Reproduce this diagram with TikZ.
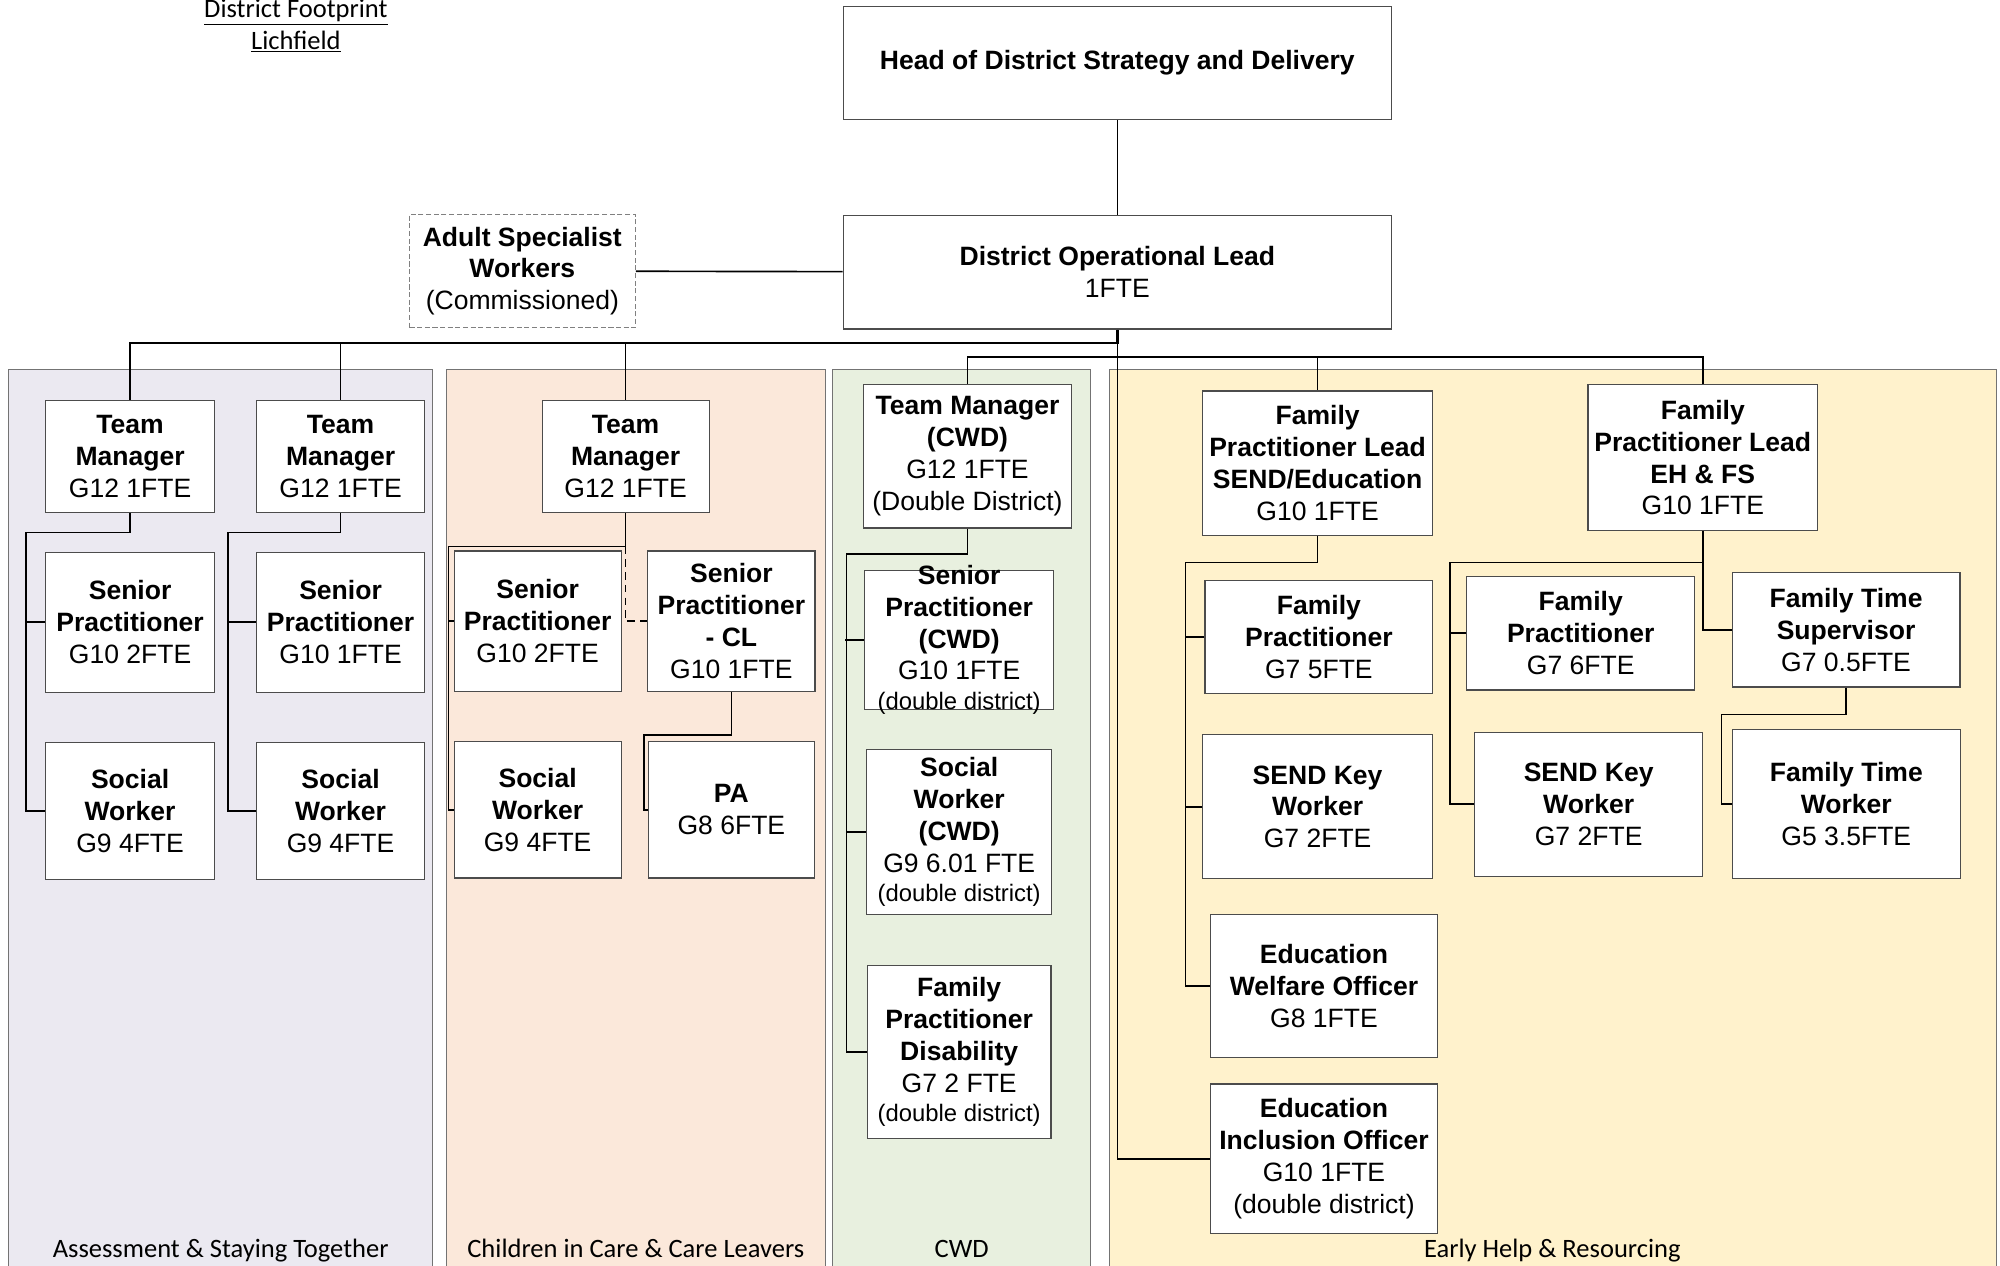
\documentclass[tikz,border=0pt]{standalone}
\usepackage{fontspec}
\setmainfont{Liberation Sans}
\newfontfamily\calibri{Carlito}
\usepackage{tikz}
\usetikzlibrary{positioning}

\definecolor{panelA}{HTML}{EBE9F1}
\definecolor{panelB}{HTML}{FBE8DA}
\definecolor{panelC}{HTML}{E8F0DF}
\definecolor{panelD}{HTML}{FFF2CC}

\begin{document}
\begin{tikzpicture}[x=1pt,y=-1pt,node distance=30pt,
  box/.style={draw=black!70,line width=0.9pt,fill=white,align=center,inner sep=1pt,font=\fontsize{20.8}{25}\selectfont},
  txt/.style={align=center,inner sep=0pt,font=\fontsize{20.8}{25}\selectfont},
  tmbox/.style={box,minimum width=132pt,minimum height=88pt},
  spbox/.style={box,minimum width=132pt,minimum height=110pt},
  swbox/.style={box,minimum width=132pt,minimum height=107pt},
  link/.style={draw,line width=1.3pt},
  bus/.style={draw,line width=1.8pt},
  panel/.style={draw=black!55,line width=0.8pt},
  lbl/.style={font=\calibri\fontsize{20.8}{25}\selectfont,inner sep=0pt,anchor=base}]
\useasboundingbox (0,0) rectangle (1568,992);

\path[panel,fill=panelA] (7,289.6) rectangle (339,1000);
\path[panel,fill=panelB] (350,289.6) rectangle (647,1000);
\path[panel,fill=panelC] (653,289.6) rectangle (855,1000);
\path[panel,fill=panelD] (869.7,289.6) rectangle (1565,1000);
\node[lbl] (labA) at (173,986) {Assessment \& Staying Together};
\node[lbl] (labB) at (498.5,986) {Children in Care \& Care Leavers};
\node[lbl] (labC) at (754,986) {CWD};
\node[lbl] (labD) at (1217,986) {Early Help \& Resourcing};

\node[lbl] (ttl1) at (232,14) {\underline{District Footprint}};
\node[lbl] (ttl2) at (232,39) {\underline{Lichfield}};

\node[box,minimum width=430pt,minimum height=89pt] (head) at (876,49.5) {\textbf{Head of District Strategy and Delivery}};
\node[box,minimum width=430pt,minimum height=89pt,below=74pt of head] (dol) {\textbf{District Operational Lead}\\1FTE};
\node[box,draw=black!50,dash pattern=on 4pt off 2pt,minimum width=177pt,minimum height=89pt] (adult) at (409.5,212.5) {\textbf{Adult Specialist}\\\textbf{Workers}\\(Commissioned)};

\node[tmbox] (tmA) at (102,358) {\textbf{Team}\\\textbf{Manager}\\G12 1FTE};
\node[spbox,below=30pt of tmA] (spA) {\textbf{Senior}\\\textbf{Practitioner}\\G10 2FTE};
\node[swbox,below=38.5pt of spA] (swA) {\textbf{Social}\\\textbf{Worker}\\G9 4FTE};
\node[tmbox] (tmB) at (267,358) {\textbf{Team}\\\textbf{Manager}\\G12 1FTE};
\node[spbox,below=30pt of tmB] (spB) {\textbf{Senior}\\\textbf{Practitioner}\\G10 1FTE};
\node[swbox,below=38.5pt of spB] (swB) {\textbf{Social}\\\textbf{Worker}\\G9 4FTE};

\node[tmbox,minimum width=131pt] (tmC) at (490.5,358) {\textbf{Team}\\\textbf{Manager}\\G12 1FTE};
\node[spbox,minimum width=131pt] (spC) at (421.5,487) {\textbf{Senior}\\\textbf{Practitioner}\\G10 2FTE};
\node[spbox,minimum width=131pt,right=20pt of spC] (spCL) {\textbf{Senior}\\\textbf{Practitioner}\\\textbf{- CL}\\G10 1FTE};
\node[swbox,minimum width=131pt,below=38.5pt of spC] (swC) {\textbf{Social}\\\textbf{Worker}\\G9 4FTE};
\node[swbox,minimum width=130pt,below=38.5pt of spCL] (pa) {\textbf{PA}\\G8 6FTE};

\node[box,minimum width=163pt,minimum height=112.5pt] (tmD) at (758.5,357.75) {\textbf{Team Manager}\\\textbf{(CWD)}\\G12 1FTE\\(Double District)};
\node[box,minimum width=148pt,minimum height=109pt] (spD) at (752,501.5) {};
\node[txt] (spDt) at (spD) {\textbf{Senior}\\\textbf{Practitioner}\\\textbf{(CWD)}\\G10 1FTE\\[-2pt]{\fontsize{18.7}{23}\selectfont(double district)}};
\node[box,minimum width=145pt,minimum height=129pt,below=31pt of spD] (swD) {\textbf{Social}\\\textbf{Worker}\\\textbf{(CWD)}\\G9 6.01 FTE\\[-2pt]{\fontsize{18.7}{23}\selectfont(double district)}};
\node[box,minimum width=144pt,minimum height=136pt,below=39pt of swD] (fpD) {\textbf{Family}\\\textbf{Practitioner}\\\textbf{Disability}\\G7 2 FTE\\[-2pt]{\fontsize{18.7}{23}\selectfont(double district)}};

\node[box,minimum width=180pt,minimum height=113pt] (flA) at (1033,363) {\textbf{Family}\\\textbf{Practitioner Lead}\\\textbf{SEND/Education}\\G10 1FTE};
\node[box,minimum width=178.5pt,minimum height=89pt] (fpE) at (1034,499.5) {\textbf{Family}\\\textbf{Practitioner}\\G7 5FTE};
\node[box,minimum width=180pt,minimum height=113pt] (kwE) at (1033,632.5) {\textbf{SEND Key}\\\textbf{Worker}\\G7 2FTE};
\node[box,minimum width=178pt,minimum height=112pt] (ewo) at (1038,773) {\textbf{Education}\\\textbf{Welfare Officer}\\G8 1FTE};
\node[box,minimum width=178pt,minimum height=117pt,below=20pt of ewo] (eio) {\textbf{Education}\\\textbf{Inclusion Officer}\\G10 1FTE\\(double district)};

\node[box,minimum width=180pt,minimum height=114.5pt] (flB) at (1335,358.75) {\textbf{Family}\\\textbf{Practitioner Lead}\\\textbf{EH \& FS}\\G10 1FTE};
\node[box,minimum width=178.6pt,minimum height=89pt] (fpF) at (1239.3,496.5) {\textbf{Family}\\\textbf{Practitioner}\\G7 6FTE};
\node[box,minimum width=178.7pt,minimum height=89.6pt] (fts) at (1447.3,493.8) {\textbf{Family Time}\\\textbf{Supervisor}\\G7 0.5FTE};
\node[box,minimum width=179pt,minimum height=113pt] (kwF) at (1245.5,630.5) {\textbf{SEND Key}\\\textbf{Worker}\\G7 2FTE};
\node[box,minimum width=179pt,minimum height=117pt] (ftw) at (1447.5,630.5) {\textbf{Family Time}\\\textbf{Worker}\\G5 3.5FTE};

\draw[link] (head) -- (dol);
\draw[link] (adult) -- (dol);
\draw[bus] (dol.south) -- ++(0,10.5) -| (tmA.north);
\draw[link] (dol.south) ++(0,10.5) -| (tmB.north);
\draw[link] (dol.south) ++(0,10.5) -| (tmC.north);
\draw[link] (dol.south) -- ++(0,21.5) -| (tmD.north);
\draw[link] (dol.south) ++(0,21.5) -| (flA.north);
\draw[link] (dol.south) ++(0,21.5) -| (flB.north);
\draw[link] (dol.south) |- (eio.west);

\draw[link] (tmA.south) -- ++(0,15) -| ([xshift=-15pt]swA.west) -- (swA.west);
\draw[link] (spA.west) -- ++(-15,0);
\draw[link] (tmB.south) -- ++(0,15) -| ([xshift=-22pt]swB.west) -- (swB.west);
\draw[link] (spB.west) -- ++(-22,0);

\draw[link] (tmC.south) -- ++(0,26) -| ([xshift=-4pt]swC.west) -- (swC.west);
\draw[link] (spC.west) -- ++(-4,0);
\draw[link,dash pattern=on 6pt off 4pt] (tmC.south) ++(0,26) |- (spCL.west);
\draw[link] (spCL.south) -- ++(0,34) -| ([xshift=-3pt]pa.west) -- (pa.west);

\draw[link] (tmD.south) -- ++(0,20) -| ([xshift=-16pt]fpD.west) -- (fpD.west);
\draw[link] (spD.west) -- ++(-15,0);
\draw[link] (swD.west) -- ++(-16,0);

\draw[link] (flA.south) -- ++(0,21) -| ([xshift=-19pt]ewo.west) -- (ewo.west);
\draw[link] (fpE.west) -- ++(-15,0);
\draw[link] (kwE.west) -- ++(-13,0);
\draw[link] (flB.south) -- ++(0,24.5) -| ([xshift=-19pt]kwF.west) -- (kwF.west);
\draw[link] (fpF.west) -- ++(-13,0);
\draw[link] (flB.south) |- (fts.west);
\draw[link] (fts.south) -- ++(0,21) -| ([xshift=-8pt]ftw.west) -- (ftw.west);
\end{tikzpicture}
\end{document}
